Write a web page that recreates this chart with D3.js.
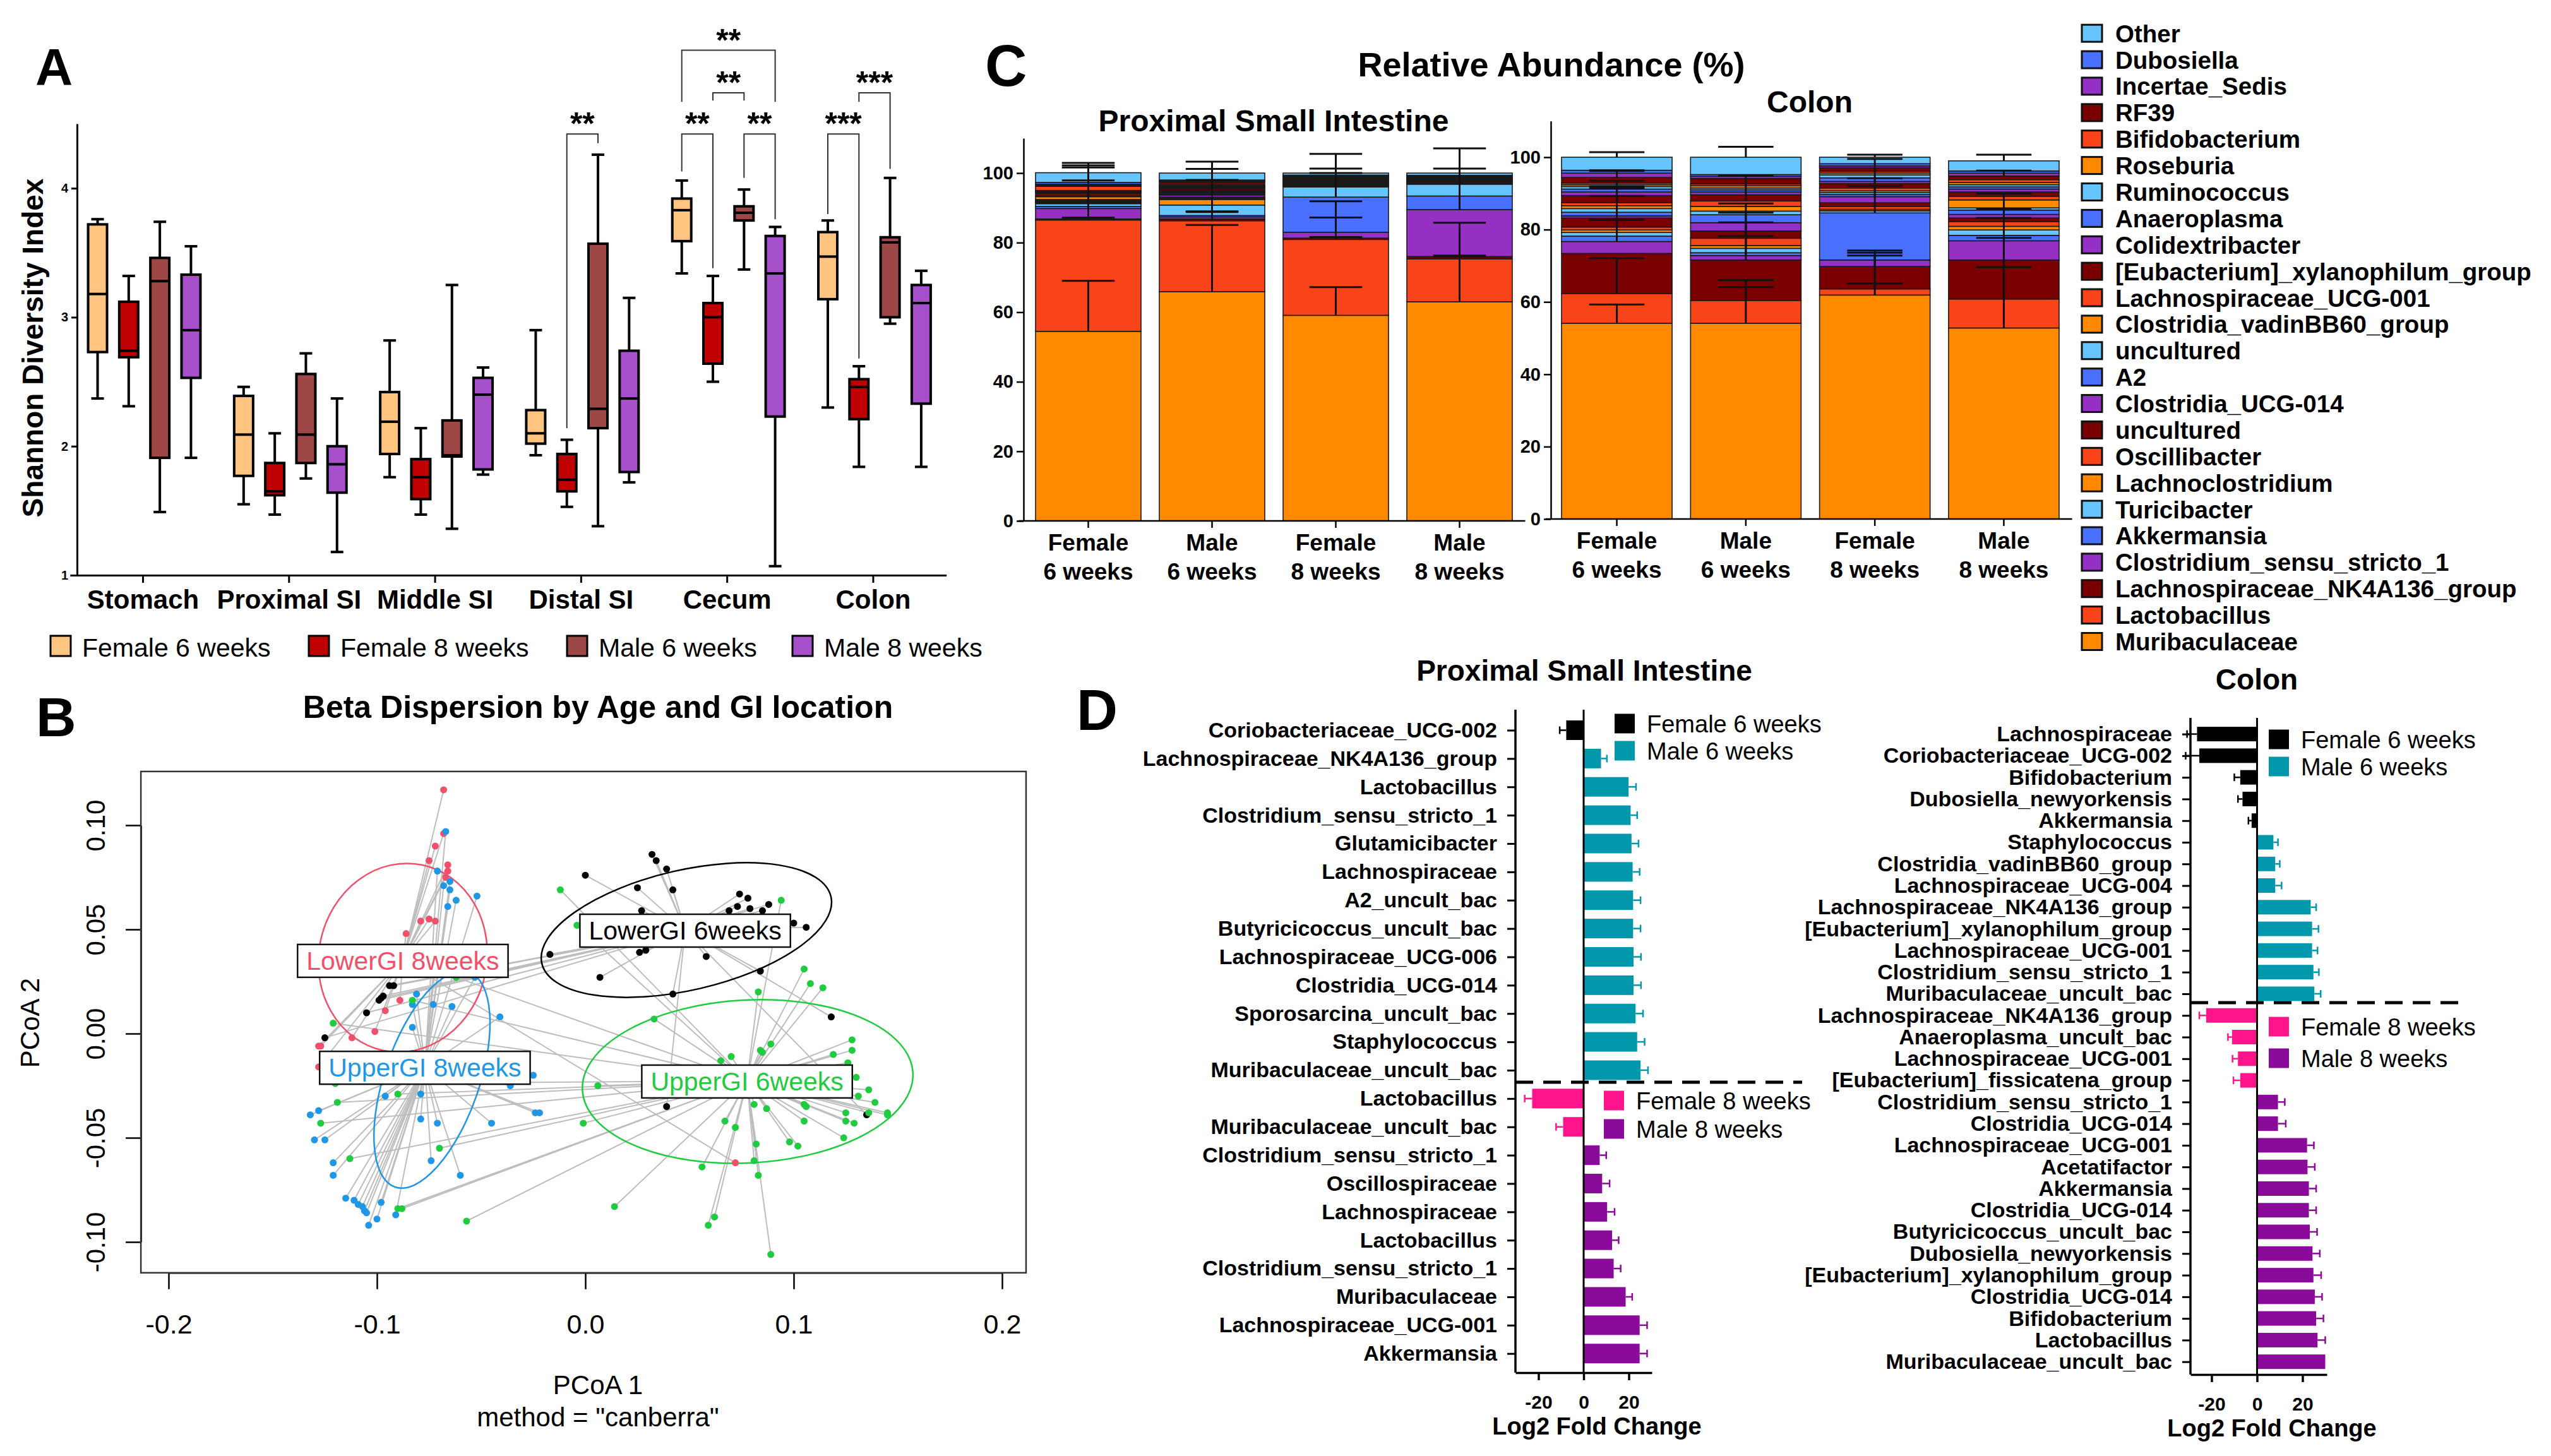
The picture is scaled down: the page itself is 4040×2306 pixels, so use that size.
<!DOCTYPE html>
<html><head><meta charset="utf-8">
<script src="https://cdn.jsdelivr.net/npm/d3@7"></script>
<style>
body{margin:0;background:#fff}
svg text{font-family:"Liberation Sans",Arial,Helvetica,sans-serif}
</style>
</head><body>
<svg id="fig" width="4040" height="2306" xmlns="http://www.w3.org/2000/svg"></svg>
<script>
// ================= DATA =================
// Panel A: Shannon diversity, [min, q1, median, q3, max]
const shannonSites = ["Stomach","Proximal SI","Middle SI","Distal SI","Cecum","Colon"];
const shannonGroups = ["Female 6 weeks","Female 8 weeks","Male 6 weeks","Male 8 weeks"];
const shannonColors = ["#FFC47F","#C00000","#9E4747","#A650CC"];
const shannonF6 = [[2.37,2.73,3.18,3.72,3.76],[1.55,1.77,2.09,2.39,2.46],[1.76,1.94,2.19,2.42,2.82],[1.93,2.02,2.10,2.28,2.90],[3.34,3.59,3.83,3.92,4.06],[2.30,3.14,3.47,3.66,3.75]];
const shannonF8 = [[2.31,2.69,2.74,3.12,3.32],[1.47,1.62,1.65,1.87,2.10],[1.47,1.59,1.76,1.90,2.14],[1.53,1.65,1.74,1.94,2.05],[2.50,2.64,3.00,3.11,3.32],[1.84,2.21,2.46,2.52,2.62]];
const shannonM6 = [[1.49,1.91,3.28,3.46,3.74],[1.75,1.87,2.09,2.56,2.72],[1.36,1.92,1.93,2.20,3.25],[1.38,2.14,2.29,3.57,4.26],[3.37,3.75,3.81,3.86,3.99],[2.95,3.00,3.58,3.62,4.08]];
const shannonM8 = [[1.91,2.53,2.90,3.33,3.55],[1.18,1.64,1.86,2.00,2.37],[1.78,1.82,2.40,2.53,2.61],[1.72,1.80,2.37,2.74,3.15],[1.07,2.23,3.34,3.63,3.70],[1.84,2.33,3.11,3.25,3.36]];
// significance brackets: site, group a, group b, bracket level, leg a end, leg b end, stars
const sigBrackets = [
  ["Distal SI",1,2,4.42,2.14,4.35,"**"],
  ["Cecum",0,1,4.42,4.13,3.38,"**"],
  ["Cecum",2,3,4.42,4.08,3.76,"**"],
  ["Cecum",1,2,4.74,4.68,4.68,"**"],
  ["Cecum",0,3,5.07,4.67,4.67,"**"],
  ["Colon",0,1,4.42,3.80,2.68,"***"],
  ["Colon",1,2,4.74,4.67,4.15,"***"]
];

// Panel B: PCoA coordinates (PCoA1, PCoA2)
const betaGroups = ["LowerGI 8weeks","UpperGI 8weeks","LowerGI 6weeks","UpperGI 6weeks"];
const betaColors = ["#F2506A","#1F96E6","#000000","#1FCB3F"];
const ptsLower8 = [[-0.068,0.117],[-0.068,0.096],[-0.072,0.090],[-0.075,0.083],[-0.066,0.081],[-0.066,0.078],[-0.067,0.075],[-0.079,0.054],[-0.075,0.055],[-0.072,0.054],[-0.086,0.048],[-0.089,0.016],[-0.096,0.011],[-0.101,0.001],[-0.112,-0.002],[-0.128,-0.006],[-0.127,-0.006],[-0.128,-0.016],[0.072,-0.062]];
const ptsUpper8 = [[-0.067,0.097],[-0.071,0.078],[-0.065,0.073],[-0.068,0.071],[-0.065,0.069],[-0.062,0.064],[-0.052,0.066],[-0.066,0.061],[-0.081,0.019],[-0.083,0.014],[-0.073,0.014],[-0.064,0.013],[-0.083,0.003],[-0.041,0.008],[-0.053,0.027],[-0.025,-0.020],[-0.036,-0.025],[-0.096,-0.030],[-0.079,-0.029],[-0.132,-0.039],[-0.128,-0.037],[-0.079,-0.041],[-0.071,-0.043],[-0.045,-0.043],[-0.024,-0.038],[-0.022,-0.038],[-0.130,-0.051],[-0.125,-0.051],[-0.074,-0.061],[-0.121,-0.062],[-0.121,-0.068],[-0.060,-0.068],[-0.115,-0.079],[-0.111,-0.080],[-0.109,-0.082],[-0.107,-0.083],[-0.106,-0.085],[-0.105,-0.086],[-0.098,-0.081],[-0.100,-0.089],[-0.104,-0.092],[-0.091,-0.087]];
const ptsLower6 = [[0.032,0.086],[0.034,0.083],[0.039,0.079],[0.000,0.076],[0.025,0.070],[0.042,0.069],[0.074,0.067],[0.078,0.065],[0.088,0.062],[0.073,0.061],[0.069,0.059],[0.079,0.060],[0.085,0.059],[0.027,0.059],[0.100,0.053],[0.106,0.051],[0.026,0.039],[0.029,0.040],[-0.017,0.038],[0.058,0.037],[0.007,0.027],[0.084,0.030],[0.042,0.019],[0.118,0.008],[0.039,-0.035],[0.135,-0.039],[-0.094,0.023],[-0.092,0.023],[-0.098,0.017],[-0.097,0.018],[-0.099,0.016],[-0.105,0.010],[-0.125,-0.002]];
const ptsUpper6 = [[-0.062,0.027],[-0.083,0.016],[-0.121,0.005],[-0.120,-0.024],[-0.090,-0.029],[-0.119,-0.033],[-0.127,-0.043],[-0.070,-0.055],[-0.113,-0.060],[-0.090,-0.084],[-0.088,-0.084],[-0.057,-0.090],[-0.012,0.069],[-0.004,0.052],[0.006,-0.025],[-0.001,-0.043],[0.014,-0.083],[0.033,0.007],[0.094,0.064],[0.105,0.031],[0.108,0.024],[0.114,0.022],[0.083,0.020],[0.089,-0.005],[0.084,-0.008],[0.085,-0.009],[0.070,-0.011],[0.065,-0.013],[0.128,-0.003],[0.128,-0.008],[0.119,-0.010],[0.126,-0.014],[0.130,-0.021],[0.136,-0.027],[0.139,-0.033],[0.131,-0.030],[0.145,-0.038],[0.145,-0.039],[0.136,-0.038],[0.125,-0.038],[0.125,-0.042],[0.129,-0.043],[0.124,-0.050],[0.105,-0.034],[0.106,-0.035],[0.105,-0.042],[0.098,-0.052],[0.102,-0.054],[0.087,-0.036],[0.081,-0.034],[0.067,-0.042],[0.072,-0.045],[0.082,-0.053],[0.081,-0.061],[0.083,-0.068],[0.056,-0.064],[0.062,-0.088],[0.059,-0.092],[0.089,-0.106]];
const betaCentroids = [[-0.0876,0.0352],[-0.0770,-0.0161],[0.0479,0.0497],[0.0776,-0.0227]];
// dispersion ellipses: centre x, centre y, semi-axis x, semi-axis y, tilt (deg)
const betaEllipses = [[-0.0876,0.0364,0.0403,0.0455,12],[-0.0736,-0.0221,0.0227,0.0545,19],[0.0485,0.0497,0.0712,0.0288,-13],[0.0779,-0.0230,0.0794,0.0391,-3]];
const betaXTicks = [-0.2,-0.1,0.0,0.1,0.2];
const betaYTicks = [-0.10,-0.05,0.00,0.05,0.10];

// Panel C: relative abundance (%), taxa from bottom of stack to top
const taxa = ["Muribaculaceae","Lactobacillus","Lachnospiraceae_NK4A136_group","Clostridium_sensu_stricto_1","Akkermansia","Turicibacter","Lachnoclostridium","Oscillibacter","uncultured","Clostridia_UCG-014","A2","uncultured","Clostridia_vadinBB60_group","Lachnospiraceae_UCG-001","[Eubacterium]_xylanophilum_group","Colidextribacter","Anaeroplasma","Ruminococcus","Roseburia","Bifidobacterium","RF39","Incertae_Sedis","Dubosiella","Other"];
const taxaPalette = ["#FF8A00","#F9441A","#7A0000","#9430C4","#4A70FF","#66C4FF"];
const abundGroups = ["Female|6 weeks","Male|6 weeks","Female|8 weeks","Male|8 weeks"];
const psiF6 = [54.5,32.0,0.3,3.0,0.6,0.8,0.2,0.2,0.2,0.2,0.2,0.2,0.8,0.2,0.8,0.2,0.2,0.2,0.2,1.2,0.3,0.3,0.5,2.8];
const psiM6 = [65.9,20.4,0.5,0.6,0.4,3.0,1.6,0.3,0.4,0.6,0.3,0.3,0.3,0.3,0.5,0.3,0.2,0.2,0.2,0.3,0.8,0.3,0.3,2.0];
const psiF8 = [59.1,21.8,0.4,1.7,10.1,2.9,0.2,0.2,0.2,0.2,0.2,0.2,0.2,0.2,0.2,0.2,0.2,0.2,0.2,0.2,0.2,0.2,0.2,0.6];
const psiM8 = [63.0,12.3,0.7,13.5,3.9,3.4,0.15,0.15,0.15,0.15,0.15,0.15,0.15,0.15,0.15,0.15,0.15,0.15,0.15,0.15,0.15,0.15,0.15,0.65];
const colF6 = [54.1,8.2,11.1,3.3,1.5,1.0,0.7,0.8,2.5,0.6,1.0,1.0,0.8,0.8,2.0,1.0,0.8,0.7,0.5,0.5,1.5,1.2,0.8,3.6];
const colM6 = [54.1,6.3,11.2,1.2,0.8,1.2,0.8,2.0,2.0,2.3,2.2,1.0,1.3,1.5,1.7,0.8,0.6,0.5,0.6,0.5,1.5,0.6,0.5,4.8];
const colF8 = [61.9,1.7,6.2,1.8,13.0,0.6,0.4,0.8,1.0,1.7,0.6,0.5,0.5,0.8,1.2,0.6,1.0,0.8,0.5,0.5,1.0,0.5,0.6,1.8];
const colM8 = [52.8,8.0,10.8,5.3,1.5,1.5,1.0,1.3,1.0,1.0,1.2,0.6,2.2,1.0,1.2,0.8,0.6,0.6,0.6,0.8,1.0,0.8,0.6,2.8];
// SD error bars: [taxon index, SD]
const psiErrF6 = [[0,14.5],[1,11.4],[2,0.4],[3,11.8],[5,11.0],[23,2.8]];
const psiErrM6 = [[0,19.2],[1,14.9],[3,1.6],[4,1.0],[20,0.6],[23,3.3]];
const psiErrF8 = [[0,8.1],[1,11.0],[2,0.3],[3,4.2],[4,8.2],[5,4.0],[23,5.5]];
const psiErrM8 = [[0,13.0],[1,10.4],[2,0.3],[3,11.8],[23,7.1]];
const colErrF6 = [[0,5.2],[1,9.8],[3,6.0],[5,14.3],[9,5.5],[14,2.0],[15,1.5],[20,1.8],[21,0.8],[23,1.4]];
const colErrM6 = [[0,11.9],[1,3.7],[2,10.4],[3,11.9],[5,12.4],[7,0.6],[13,7.1],[23,2.9]];
const colErrF8 = [[0,3.2],[1,9.2],[2,4.4],[3,2.0],[4,14.9],[9,3.0],[14,1.5],[23,0.7]];
const colErrM8 = [[0,16.8],[1,16.9],[2,18.3],[7,1.0],[10,0.3],[20,1.5],[23,1.7]];

// Panel D: log2 fold change
const dGroups = ["Female 6 weeks","Male 6 weeks","Female 8 weeks","Male 8 weeks"];
const dColors = ["#000000","#0098AA","#FF148C","#8A0A9A"];
const psiTaxa = ["Coriobacteriaceae_UCG-002","Lachnospiraceae_NK4A136_group","Lactobacillus","Clostridium_sensu_stricto_1","Glutamicibacter","Lachnospiraceae","A2_uncult_bac","Butyricicoccus_uncult_bac","Lachnospiraceae_UCG-006","Clostridia_UCG-014","Sporosarcina_uncult_bac","Staphylococcus","Muribaculaceae_uncult_bac","Lactobacillus","Muribaculaceae_uncult_bac","Clostridium_sensu_stricto_1","Oscillospiraceae","Lachnospiraceae","Lactobacillus","Clostridium_sensu_stricto_1","Muribaculaceae","Lachnospiraceae_UCG-001","Akkermansia"];
const psiLFC = [-7.7,7.7,19.9,20.8,21.2,21.7,21.9,21.9,22.1,22.1,23.0,23.7,25.2,-22.8,-9.1,7.1,8.2,10.4,12.6,13.3,18.6,24.8,24.8];
const psiLFCErr = [2.9,2.6,3.3,2.9,3.1,3.1,3.3,3.3,3.3,3.3,3.3,3.3,3.3,3.3,3.1,2.9,3.3,3.3,2.9,3.1,2.9,3.3,3.3];
const psiGroup = [0,1,1,1,1,1,1,1,1,1,1,1,1,2,2,3,3,3,3,3,3,3,3];
const colTaxa = ["Lachnospiraceae","Coriobacteriaceae_UCG-002","Bifidobacterium","Dubosiella_newyorkensis","Akkermansia","Staphylococcus","Clostridia_vadinBB60_group","Lachnospiraceae_UCG-004","Lachnospiraceae_NK4A136_group","[Eubacterium]_xylanophilum_group","Lachnospiraceae_UCG-001","Clostridium_sensu_stricto_1","Muribaculaceae_uncult_bac","Lachnospiraceae_NK4A136_group","Anaeroplasma_uncult_bac","Lachnospiraceae_UCG-001","[Eubacterium]_fissicatena_group","Clostridium_sensu_stricto_1","Clostridia_UCG-014","Lachnospiraceae_UCG-001","Acetatifactor","Akkermansia","Clostridia_UCG-014","Butyricicoccus_uncult_bac","Dubosiella_newyorkensis","[Eubacterium]_xylanophilum_group","Clostridia_UCG-014","Bifidobacterium","Lactobacillus","Muribaculaceae_uncult_bac"];
const colLFC = [-26.4,-25.4,-7.4,-6.4,-2.4,7.2,8.0,8.0,23.6,24.2,24.2,24.8,25.2,-22.4,-11.0,-8.4,-7.4,9.2,9.2,22.0,22.2,22.8,22.8,23.2,24.4,24.8,25.4,26.0,26.6,30.0];
const colLFCErr = [4.4,6.0,2.6,2.0,1.4,2.0,2.0,2.8,2.4,2.8,2.4,2.4,2.8,3.0,1.8,2.4,3.0,3.0,3.4,3.0,3.2,3.2,3.2,3.2,3.2,3.4,3.2,3.2,3.4,0];
const colGroup = [0,0,0,0,0,1,1,1,1,1,1,1,1,2,2,2,2,3,3,3,3,3,3,3,3,3,3,3,3,3];
const lfcTicks = [-20,0,20];

// ================= DRAWING =================
const FONT = '"Liberation Sans", Arial, Helvetica, sans-serif';
const svg = d3.select("#fig");
svg.append("rect").attr("width",4040).attr("height",2306).attr("fill","#fff");

function txt(g,x,y,s,o={}){
  const t=g.append("text").attr("x",x).attr("y",y).text(s)
    .attr("font-size",o.size||30).attr("font-weight",o.weight||"normal")
    .attr("text-anchor",o.anchor||"start").attr("fill",o.fill||"#000");
  if(o.rotate!=null) t.attr("transform",`rotate(${o.rotate},${x},${y})`);
  return t;
}
function styleAxis(g,size,weight,sw){
  g.attr("font-family",FONT).attr("font-size",size).attr("font-weight",weight||"normal");
  g.selectAll("line,path").attr("stroke","#000").attr("stroke-width",sw||3);
  g.selectAll("text").attr("fill","#000");
}

// panel letters
txt(svg,56,134,"A",{size:82,weight:"bold"});
txt(svg,57,1166,"B",{size:88,weight:"bold"});
txt(svg,1560,136,"C",{size:92,weight:"bold"});
txt(svg,1705,1156,"D",{size:90,weight:"bold"});

// ---------- Panel A ----------
(function(){
  const g=svg.append("g");
  const xA=d3.scaleBand().domain(shannonSites).range([110.85,1498.6]);
  const xIn=d3.scaleBand().domain(shannonGroups).range([-96.6,100.6]);
  const yA=d3.scaleLinear().domain([1,4.5]).range([911,196]);
  const ya=g.append("g").attr("transform","translate(122,0)")
    .call(d3.axisLeft(yA).tickValues([1,2,3,4]).tickSize(9).tickPadding(5).tickSizeOuter(0).tickFormat(d=>d));
  styleAxis(ya,20,"bold",3);
  const xa=g.append("g").attr("transform","translate(0,911)")
    .call(d3.axisBottom(xA).tickSize(12).tickPadding(11).tickSizeOuter(0));
  styleAxis(xa,42,"bold",3);
  txt(g,0,0,"Shannon Diversity Index",{size:46,weight:"bold",anchor:"middle"})
    .attr("transform","translate(68,551) rotate(-90)");
  const all=[shannonF6,shannonF8,shannonM6,shannonM8];
  const cx=(site,gi)=>xA(site)+xA.bandwidth()/2+xIn(shannonGroups[gi])+xIn.bandwidth()/2;
  all.forEach((arr,gi)=>{
    arr.forEach((v,si)=>{
      const x=cx(shannonSites[si],gi);
      const bw=30,cw=20;
      g.append("line").attr("x1",x).attr("x2",x).attr("y1",yA(v[0])).attr("y2",yA(v[4])).attr("stroke","#000").attr("stroke-width",4);
      g.append("line").attr("x1",x-cw/2).attr("x2",x+cw/2).attr("y1",yA(v[0])).attr("y2",yA(v[0])).attr("stroke","#000").attr("stroke-width",4);
      g.append("line").attr("x1",x-cw/2).attr("x2",x+cw/2).attr("y1",yA(v[4])).attr("y2",yA(v[4])).attr("stroke","#000").attr("stroke-width",4);
      g.append("rect").attr("x",x-bw/2).attr("width",bw).attr("y",yA(v[3])).attr("height",yA(v[1])-yA(v[3]))
        .attr("fill",shannonColors[gi]).attr("stroke","#000").attr("stroke-width",4);
      g.append("line").attr("x1",x-bw/2).attr("x2",x+bw/2).attr("y1",yA(v[2])).attr("y2",yA(v[2])).attr("stroke","#000").attr("stroke-width",4);
    });
  });
  sigBrackets.forEach(b=>{
    const xa1=cx(b[0],b[1]), xb1=cx(b[0],b[2]);
    g.append("path").attr("d",`M${xa1},${yA(b[4])}V${yA(b[3])}H${xb1}V${yA(b[5])}`)
      .attr("fill","none").attr("stroke","#333").attr("stroke-width",2);
    txt(g,(xa1+xb1)/2,yA(b[3])+1,b[6],{size:50,weight:"bold",anchor:"middle"});
  });
  // legend
  const lx=[80,489,898,1255];
  shannonGroups.forEach((s,i)=>{
    g.append("rect").attr("x",lx[i]).attr("y",1007).attr("width",32).attr("height",32)
      .attr("fill",shannonColors[i]).attr("stroke","#000").attr("stroke-width",3);
    txt(g,lx[i]+50,1040,s,{size:41});
  });
})();

// ---------- Panel B ----------
(function(){
  const g=svg.append("g");
  const xB=d3.scaleLinear().domain([-0.2,0.2]).range([267,1587]);
  const yB=d3.scaleLinear().domain([-0.1,0.1]).range([1967,1307]);
  const fx0=xB(-0.2133), fx1=xB(0.2115), fy0=yB(0.1258), fy1=yB(-0.1148);
  txt(g,947,1137,"Beta Dispersion by Age and GI location",{size:50,weight:"bold",anchor:"middle"});
  const xa=g.append("g").attr("transform",`translate(0,${fy1})`)
    .call(d3.axisBottom(xB).tickValues(betaXTicks).tickSize(26).tickPadding(40).tickSizeOuter(0).tickFormat(d=>d.toFixed(1)));
  styleAxis(xa,43,"normal",2.5);
  const ya=g.append("g").attr("transform",`translate(${fx0},0)`)
    .call(d3.axisLeft(yB).tickValues(betaYTicks).tickSize(24).tickSizeOuter(0).tickFormat(d=>d.toFixed(2)));
  styleAxis(ya,42,"normal",2.5);
  ya.selectAll(".tick text").attr("transform","rotate(-90)").attr("x",0).attr("y",-57).attr("dy",0).attr("text-anchor","middle");
  txt(g,947,2208,"PCoA 1",{size:42,anchor:"middle"});
  txt(g,947,2259,'method = "canberra"',{size:42,anchor:"middle"});
  txt(g,0,0,"PCoA 2",{size:42,anchor:"middle"}).attr("transform","translate(62,1620) rotate(-90)");
  const groups=[ptsLower8,ptsUpper8,ptsLower6,ptsUpper6];
  const lines=g.append("g");
  groups.forEach((pts,gi)=>{
    const c=betaCentroids[gi];
    pts.forEach(p=>lines.append("line").attr("x1",xB(p[0])).attr("y1",yB(p[1])).attr("x2",xB(c[0])).attr("y2",yB(c[1]))
      .attr("stroke","#BDBDBD").attr("stroke-width",2));
  });
  betaEllipses.forEach((e,i)=>{
    const cx=xB(e[0]), cy=yB(e[1]);
    g.append("ellipse").attr("cx",cx).attr("cy",cy).attr("rx",xB(e[2])-xB(0)).attr("ry",yB(0)-yB(e[3]))
      .attr("transform",`rotate(${e[4]},${cx},${cy})`).attr("fill","none").attr("stroke",betaColors[i]).attr("stroke-width",2.5);
  });
  groups.forEach((pts,gi)=>{
    pts.forEach(p=>g.append("circle").attr("cx",xB(p[0])).attr("cy",yB(p[1])).attr("r",5.5).attr("fill",betaColors[gi]));
  });
  betaGroups.forEach((s,i)=>{
    const c=betaCentroids[i];
    const lg=g.append("g");
    const t=txt(lg,xB(c[0]),yB(c[1])+15,s,{size:41,anchor:"middle",fill:betaColors[i]});
    const bb=t.node().getBBox();
    lg.insert("rect","text").attr("x",bb.x-14).attr("y",bb.y-3).attr("width",bb.width+28).attr("height",bb.height+6)
      .attr("fill","#fff").attr("stroke","#111").attr("stroke-width",2.5);
  });
  g.append("rect").attr("x",fx0).attr("y",fy0).attr("width",fx1-fx0).attr("height",fy1-fy0)
    .attr("fill","none").attr("stroke","#333").attr("stroke-width",2.5);
})();

// ---------- Panel C ----------
(function(){
  const g=svg.append("g");
  txt(g,2457,121,"Relative Abundance (%)",{size:54,weight:"bold",anchor:"middle"});
  const keys=taxa.map((t,i)=>"k"+i);
  function chart(title,tx,ty,vals,errs,xr,po,pi,yr,axisX){
    txt(g,tx,ty,title,{size:48,weight:"bold",anchor:"middle"});
    const x=d3.scaleBand().domain(abundGroups).range(xr).paddingInner(pi).paddingOuter(po);
    const y=d3.scaleLinear().domain([0,110]).range(yr);
    const rows=vals.map((v,j)=>{const o={grp:abundGroups[j]};v.forEach((d,i)=>o["k"+i]=d);return o;});
    const series=d3.stack().keys(keys)(rows);
    series.forEach((s,i)=>{
      g.append("g").selectAll("rect").data(s).join("rect")
        .attr("x",d=>x(d.data.grp)).attr("width",x.bandwidth())
        .attr("y",d=>y(d[1])).attr("height",d=>y(d[0])-y(d[1]))
        .attr("fill",taxaPalette[i%6]).attr("stroke","#1a1a1a").attr("stroke-width",1.6);
    });
    // error bars
    errs.forEach((el,j)=>{
      const cx=x(abundGroups[j])+x.bandwidth()/2, cw=x.bandwidth()*0.5;
      el.forEach(([ti,sd])=>{
        const top=series[ti][j][1];
        g.append("line").attr("x1",cx).attr("x2",cx).attr("y1",y(top)).attr("y2",y(top+sd)).attr("stroke","#111").attr("stroke-width",3);
        g.append("line").attr("x1",cx-cw/2).attr("x2",cx+cw/2).attr("y1",y(top+sd)).attr("y2",y(top+sd)).attr("stroke","#111").attr("stroke-width",3);
      });
    });
    const ya=g.append("g").attr("transform",`translate(${axisX},0)`)
      .call(d3.axisLeft(y).tickValues([0,20,40,60,80,100]).tickSize(11).tickPadding(5).tickSizeOuter(0));
    styleAxis(ya,29,"bold",2.5);
    const xa=g.append("g").attr("transform",`translate(0,${yr[0]})`)
      .call(d3.axisBottom(x).tickSize(11).tickSizeOuter(0).tickFormat(""));
    styleAxis(xa,37,"bold",2.5);
    xa.select(".domain").attr("d",`M${axisX-8},0H${xr[1]+6}`);
    abundGroups.forEach(gn=>{
      const parts=gn.split("|"), cx=x(gn)+x.bandwidth()/2;
      txt(g,cx,yr[0]+47,parts[0],{size:37,weight:"bold",anchor:"middle"});
      txt(g,cx,yr[0]+93,parts[1],{size:37,weight:"bold",anchor:"middle"});
    });
  }
  chart("Proximal Small Intestine",2017,208,[psiF6,psiM6,psiF8,psiM8],[psiErrF6,psiErrM6,psiErrF8,psiErrM8],
        [1625.5,2409.5],0.074,0.148,[825,219],1621);
  chart("Colon",2866,178,[colF6,colM6,colF8,colM8],[colErrF6,colErrM6,colErrF8,colErrM8],
        [2458.4,3275.6],0.0715,0.143,[822,191.7],2456);
  // legend (top = last taxon)
  const ly=d3.scalePoint().domain(d3.range(taxa.length).reverse()).range([52.7,1016]);
  taxa.forEach((t,i)=>{
    const yy=ly(i);
    g.append("rect").attr("x",3297).attr("y",yy-13.5).attr("width",32).attr("height",27)
      .attr("fill",taxaPalette[i%6]).attr("stroke","#111").attr("stroke-width",3);
    txt(g,3350,yy+14,t,{size:38.5,weight:"bold"});
  });
})();

// ---------- Panel D ----------
(function(){
  const g=svg.append("g");
  function chart(title,tx,ty,labels,vals,errs,grp,xr,xdom,yr,axTop,axBot,bh,dashY,dashX2,legs,xlabX){
    txt(g,tx,ty,title,{size:46,weight:"bold",anchor:"middle"});
    const x=d3.scaleLinear().domain(xdom).range(xr);
    const y=d3.scalePoint().domain(d3.range(labels.length)).range(yr);
    const ya=g.append("g").attr("transform",`translate(${xr[0]},0)`)
      .call(d3.axisLeft(y).tickSize(13).tickPadding(16).tickFormat(i=>labels[i]));
    styleAxis(ya,34,"bold",3);
    ya.select(".domain").remove();
    g.append("line").attr("x1",xr[0]).attr("x2",xr[0]).attr("y1",axTop).attr("y2",axBot).attr("stroke","#000").attr("stroke-width",3.5);
    vals.forEach((v,i)=>{
      const c=dColors[grp[i]], yc=y(i);
      g.append("rect").attr("x",x(Math.min(0,v))).attr("width",Math.abs(x(v)-x(0))).attr("y",yc-bh/2).attr("height",bh).attr("fill",c);
      if(errs[i]>0){
        const e=v+Math.sign(v)*errs[i];
        g.append("line").attr("x1",x(v)).attr("x2",x(e)).attr("y1",yc).attr("y2",yc).attr("stroke",c).attr("stroke-width",2.5);
        g.append("line").attr("x1",x(e)).attr("x2",x(e)).attr("y1",yc-6).attr("y2",yc+6).attr("stroke",c).attr("stroke-width",2.5);
      }
    });
    g.append("line").attr("x1",x(0)).attr("x2",x(0)).attr("y1",axTop).attr("y2",axBot).attr("stroke","#000").attr("stroke-width",3);
    const xa=g.append("g").attr("transform",`translate(0,${axBot})`)
      .call(d3.axisBottom(x).tickValues(lfcTicks).tickSize(12).tickPadding(24).tickSizeOuter(0).tickFormat(d=>String(d)));
    styleAxis(xa,30,"bold",3.5);
    txt(g,xlabX,axBot+98,"Log2 Fold Change",{size:38,weight:"bold",anchor:"middle"});
    g.append("line").attr("x1",xr[0]).attr("x2",dashX2).attr("y1",dashY).attr("y2",dashY)
      .attr("stroke","#000").attr("stroke-width",5).attr("stroke-dasharray","28,16");
    legs.forEach(([gi,lx,ly])=>{
      g.append("rect").attr("x",lx).attr("y",ly-15.5).attr("width",32).attr("height",31).attr("fill",dColors[gi]);
      txt(g,lx+51,ly+14,dGroups[gi],{size:38});
    });
  }
  chart("Proximal Small Intestine",2509,1078,psiTaxa,psiLFC,psiLFCErr,psiGroup,[2400,2616],[-30.2,30.2],
        [1156.5,2143.7],1124,2174,31,1714,2854,[[0,2557,1146],[1,2557,1189],[2,2540,1743],[3,2540,1788]],2529);
  chart("Colon",3574,1092,colTaxa,colLFC,colLFCErr,colGroup,[3469,3685],[-29.3,30.7],
        [1162.6,2156.7],1137,2177,23,1588,3894,[[0,3593,1171],[1,3593,1214],[2,3593,1626],[3,3593,1676]],3598);
})();
</script>
</body></html>
